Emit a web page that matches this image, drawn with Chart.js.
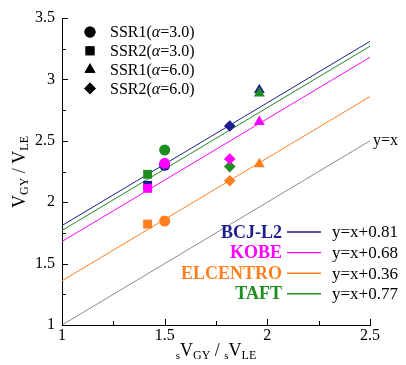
<!DOCTYPE html>
<html>
<head>
<meta charset="utf-8">
<script src="https://cdn.jsdelivr.net/npm/chart.js@4"></script>
<style>
  body { margin: 0; background: #fff; }
  #wrap { width: 406px; height: 365px; }
</style>
</head>
<body>
<div id="wrap"><canvas id="chart" width="406" height="365"></canvas></div>
<script>
// specimens (marker shapes) and their x values
const specimenNames = ['SSR1', 'SSR2', 'SSR1', 'SSR2'];
const specimenAlpha = ['3.0', '3.0', '6.0', '6.0'];
const specimenShapes = ['circle', 'rect', 'triangle', 'rectRot'];
const specimenRadius = [5.5, 6.3, 6.3, 5.8];
const specimenX = [1.50, 1.417, 1.961, 1.817];

// ground motions
const motions = ['BCJ-L2', 'KOBE', 'ELCENTRO', 'TAFT'];
const motionColors = ['#1c1c8c', '#ff00ff', '#ff7f1e', '#1e8c1e'];
const bcjY = [2.30, 2.137, 2.914, 2.62];
const kobeY = [2.317, 2.113, 2.655, 2.352];
const elcentroY = [1.847, 1.822, 2.31, 2.175];
const taftY = [2.425, 2.227, 2.887, 2.29];
const motionY = [bcjY, kobeY, elcentroY, taftY];

// fitted lines y = x + offset
const fitOffsets = [0.81, 0.68, 0.36, 0.77];
const fitLabels = ['y=x+0.81', 'y=x+0.68', 'y=x+0.36', 'y=x+0.77'];
const xRange = [1, 2.5];
const yRange = [1, 3.5];

const serif = '"Liberation Serif", "Times New Roman", serif';
// draw order: blue, green, magenta, orange (later = on top)
const pointOrder = [4, 2, 1, 3];

const datasets = [];
motions.forEach((m, i) => {
  datasets.push({
    type: 'scatter',
    label: m,
    data: specimenX.map((x, j) => ({ x: x, y: motionY[i][j] })),
    pointStyle: specimenShapes,
    pointRadius: specimenRadius,
    backgroundColor: motionColors[i],
    borderColor: motionColors[i],
    borderWidth: 0,
    order: pointOrder[i]
  });
  datasets.push({
    type: 'line',
    label: fitLabels[i],
    data: xRange.map(x => ({ x: x, y: x + fitOffsets[i] })),
    borderColor: motionColors[i],
    borderWidth: 1,
    pointRadius: 0,
    fill: false,
    order: 10
  });
});
datasets.push({
  type: 'line',
  label: 'y=x',
  data: xRange.map(x => ({ x: x, y: x })),
  borderColor: '#8c8c8c',
  borderWidth: 1,
  pointRadius: 0,
  fill: false,
  order: 11
});

function drawSubText(ctx, parts, x, y) {
  // parts: [text, size, dy, style]
  let cx = x;
  parts.forEach(p => {
    ctx.font = (p[3] || '') + ' ' + p[1] + 'px ' + serif;
    ctx.fillText(p[0], cx, y + p[2]);
    cx += ctx.measureText(p[0]).width;
  });
  return cx - x;
}
function measureSub(ctx, parts) {
  let w = 0;
  parts.forEach(p => { ctx.font = (p[3] || '') + ' ' + p[1] + 'px ' + serif; w += ctx.measureText(p[0]).width; });
  return w;
}

const decorPlugin = {
  id: 'decor',
  afterDraw(chart) {
    const ctx = chart.ctx;
    const xs = chart.scales.x, ys = chart.scales.y;
    const area = chart.chartArea;
    ctx.save();
    ctx.strokeStyle = '#000';
    ctx.lineWidth = 1;
    // inward ticks
    for (let v = 1; v <= 2.5001; v += 0.25) {
      const px = Math.round(xs.getPixelForValue(v)) + 0.5;
      const len = (Math.abs(v * 2 - Math.round(v * 2)) < 1e-6) ? 6 : 4;
      ctx.beginPath(); ctx.moveTo(px, area.bottom); ctx.lineTo(px, area.bottom - len); ctx.stroke();
    }
    for (let v = 1; v <= 3.5001; v += 0.25) {
      const py = Math.round(ys.getPixelForValue(v)) + 0.5;
      const len = (Math.abs(v * 2 - Math.round(v * 2)) < 1e-6) ? 6 : 4;
      ctx.beginPath(); ctx.moveTo(area.left, py); ctx.lineTo(area.left + len, py); ctx.stroke();
    }

    // specimen legend (black markers)
    ctx.textBaseline = 'middle';
    ctx.textAlign = 'left';
    specimenNames.forEach((s, i) => {
      const y = 32 + i * 18.8;
      ctx.fillStyle = '#000';
      Chart.helpers.drawPoint(ctx, { pointStyle: specimenShapes[i], radius: specimenRadius[i], rotation: 0, borderWidth: 0 }, 90, y);
      ctx.fill();
      drawSubText(ctx, [[s + '(', 16, 0], ['\u03b1', 16, 0, 'italic'], ['=' + specimenAlpha[i] + ')', 16, 0]], 110, y + 1);
    });

    // motion legend
    motions.forEach((m, i) => {
      const y = 232 + i * 20.6;
      ctx.fillStyle = motionColors[i];
      ctx.textAlign = 'right';
      ctx.font = 'bold 18px ' + serif;
      ctx.fillText(m, 282, y + 1);
      ctx.strokeStyle = motionColors[i];
      ctx.lineWidth = 1.4;
      ctx.beginPath(); ctx.moveTo(287, y); ctx.lineTo(321, y); ctx.stroke();
      ctx.fillStyle = '#000';
      ctx.textAlign = 'left';
      ctx.font = '17px ' + serif;
      ctx.fillText(fitLabels[i], 332, y + 1);
    });

    // y=x label
    ctx.font = '16px ' + serif;
    ctx.fillStyle = '#000';
    ctx.fillText('y=x', 373, 141);

    // axis titles
    ctx.textBaseline = 'alphabetic';
    const xt = [['s', 11, 3], ['V', 18, 0], ['GY', 12, 3], [' / ', 18, 0], ['s', 11, 3], ['V', 18, 0], ['LE', 12, 3]];
    const xw = measureSub(ctx, xt);
    drawSubText(ctx, xt, 216 - xw / 2, 356);

    const yt = [['V', 18, 0], ['GY', 12, 3], [' / ', 18, 0], ['V', 18, 0], ['LE', 12, 3]];
    const yw = measureSub(ctx, yt);
    ctx.translate(25, 172);
    ctx.rotate(-Math.PI / 2);
    drawSubText(ctx, yt, -yw / 2, 0);
    ctx.restore();
  }
};

const fmt = v => String(Math.round(v * 100) / 100);

new Chart(document.getElementById('chart').getContext('2d'), {
  data: { datasets: datasets },
  options: {
    responsive: false,
    animation: false,
    layout: { padding: { left: 0, top: 18, right: 36, bottom: 0 } },
    plugins: { legend: { display: false }, tooltip: { enabled: false } },
    scales: {
      x: {
        type: 'linear',
        min: xRange[0], max: xRange[1],
        grid: { display: false, drawTicks: false },
        border: { display: true, color: '#000', width: 1 },
        ticks: { stepSize: 0.5, padding: 1, color: '#000', font: { family: serif, size: 16 }, callback: fmt },
        afterFit(scale) { scale.height = 40; }
      },
      y: {
        type: 'linear',
        min: yRange[0], max: yRange[1],
        grid: { display: false, drawTicks: false },
        border: { display: true, color: '#000', width: 1 },
        ticks: { stepSize: 0.5, padding: 7, color: '#000', font: { family: serif, size: 16 }, callback: fmt },
        afterFit(scale) { scale.width = 62; }
      }
    }
  },
  plugins: [decorPlugin]
});
</script>
</body>
</html>
